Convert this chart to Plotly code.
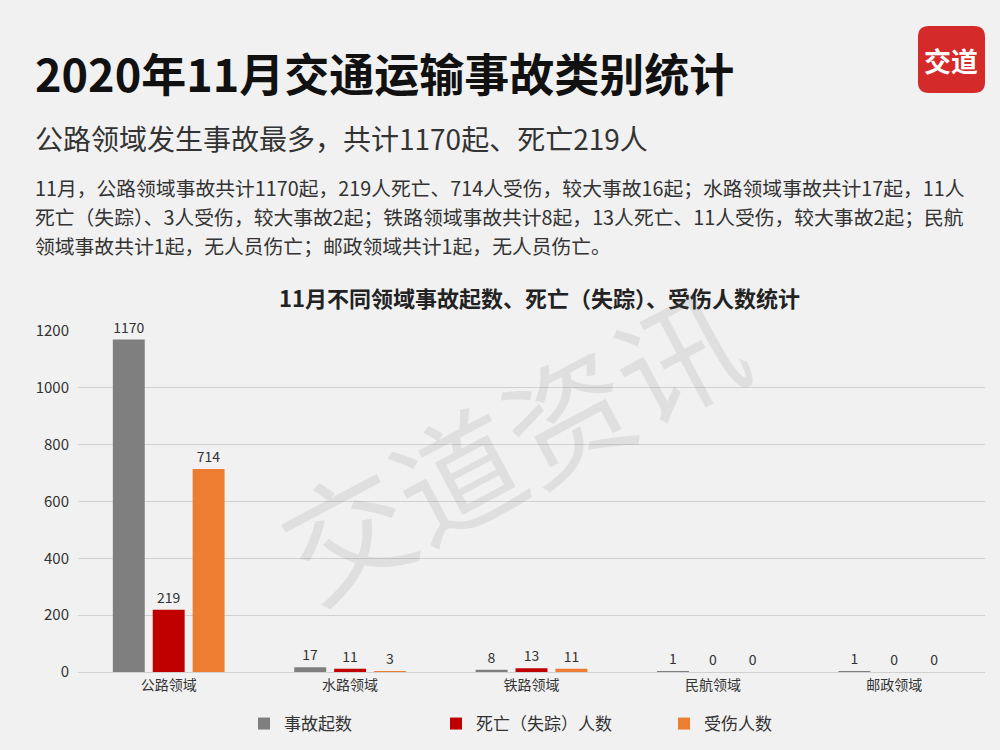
import plotly.graph_objects as go

categories = ["公路领域", "水路领域", "铁路领域", "民航领域", "邮政领域"]
accidents = [1170, 17, 8, 1, 1]
deaths = [219, 11, 13, 0, 0]
injuries = [714, 3, 11, 0, 0]
series_names = ["事故起数", "死亡（失踪）人数", "受伤人数"]
colors = ["#7f7f7f", "#c00000", "#ed7d31"]
y_ticks = [0, 200, 400, 600, 800, 1000, 1200]

FONT = "Noto Sans CJK SC"
L, R, T, B = 78, 15, 331, 78
W, H = 1000, 750
pw, ph = W - L - R, H - T - B

def px(x):
    return (x - L) / pw

def py(y):
    return (H - B - y) / ph

fig = go.Figure()
legend_ids = ["legend", "legend2", "legend3"]
for name, vals, c, lg in zip(series_names, [accidents, deaths, injuries], colors, legend_ids):
    fig.add_trace(go.Bar(
        x=categories, y=vals, name=name, marker=dict(color=c, line=dict(width=0)),
        text=[str(v) for v in vals], textposition="outside",
        textfont=dict(size=14, color="#333333", family=FONT),
        cliponaxis=False, legend=lg, showlegend=True,
    ))

annotations = [
    dict(text="<b>2020年11月交通运输事故类别统计</b>", x=px(33), y=py(72), xanchor="left", yanchor="middle",
         font=dict(size=45, color="#111111", family=FONT)),
    dict(text="公路领域发生事故最多，共计1170起、死亡219人", x=px(33), y=py(138), xanchor="left", yanchor="middle",
         font=dict(size=28, color="#333333", family=FONT)),
    dict(text="11月，公路领域事故共计1170起，219人死亡、714人受伤，较大事故16起；水路领域事故共计17起，11人",
         x=px(33), y=py(188), xanchor="left", yanchor="middle", font=dict(size=19.8, color="#333333", family=FONT)),
    dict(text="死亡（失踪）、3人受伤，较大事故2起；铁路领域事故共计8起，13人死亡、11人受伤，较大事故2起；民航",
         x=px(33), y=py(216), xanchor="left", yanchor="middle", font=dict(size=19.8, color="#333333", family=FONT)),
    dict(text="领域事故共计1起，无人员伤亡；邮政领域共计1起，无人员伤亡。",
         x=px(33), y=py(245), xanchor="left", yanchor="middle", font=dict(size=19.8, color="#333333", family=FONT)),
    dict(text="<b>11月不同领域事故起数、死亡（失踪）、受伤人数统计</b>", x=px(539), y=py(297), xanchor="center", yanchor="middle",
         font=dict(size=22, color="#222222", family=FONT)),
    dict(text="交道资讯", x=px(510), y=py(440), xanchor="center", yanchor="middle", textangle=-28,
         font=dict(size=125, color="rgba(110,110,110,0.13)", family=FONT)),
    dict(text="<b>交道</b>", x=px(951), y=py(60), xanchor="center", yanchor="middle",
         font=dict(size=27, color="#ffffff", family=FONT)),
]
for a in annotations:
    a.update(xref="paper", yref="paper", showarrow=False)

# logo rounded square
x0, x1, y0, y1, r = px(918), px(985), py(26), py(93), 11
rx, ry = r / pw, r / ph
path = (f"M {x0+rx},{y0} L {x1-rx},{y0} Q {x1},{y0} {x1},{y0-ry} L {x1},{y1+ry} Q {x1},{y1} {x1-rx},{y1} "
        f"L {x0+rx},{y1} Q {x0},{y1} {x0},{y1+ry} L {x0},{y0-ry} Q {x0},{y0} {x0+rx},{y0} Z")

leg_common = dict(orientation="h", xref="container", yref="container", y=1 - 724 / H,
                  xanchor="left", yanchor="middle",
                  font=dict(size=17, color="#333333"), bgcolor="rgba(0,0,0,0)")

fig.update_layout(
    width=W, height=H,
    margin=dict(l=L, r=R, t=T, b=B, autoexpand=False),
    paper_bgcolor="#f1f1f1", plot_bgcolor="rgba(0,0,0,0)",
    barmode="group", bargap=0.34, bargroupgap=0.2,
    font=dict(family=FONT, color="#333333"),
    showlegend=True,
    annotations=annotations,
    shapes=[dict(type="path", path=path, xref="paper", yref="paper", fillcolor="#d42a2a", line=dict(width=0), layer="above")],
    xaxis=dict(showgrid=False, tickfont=dict(size=14, color="#333333"), showline=True, linecolor="#d0d0d0",
               ticks="", ticklen=0),
    yaxis=dict(range=[0, 1200], tickvals=y_ticks, gridcolor="#d0d0d0", gridwidth=1, zeroline=False,
               tickfont=dict(size=15, color="#333333"), ticks="", ticklabelstandoff=8),
    legend=dict(x=244 / W, **leg_common),
    legend2=dict(x=436 / W, **leg_common),
    legend3=dict(x=664 / W, **leg_common),
)

fig.write_html("out.html", config={"displayModeBar": False},
               post_script="document.body.style.margin='0';")
